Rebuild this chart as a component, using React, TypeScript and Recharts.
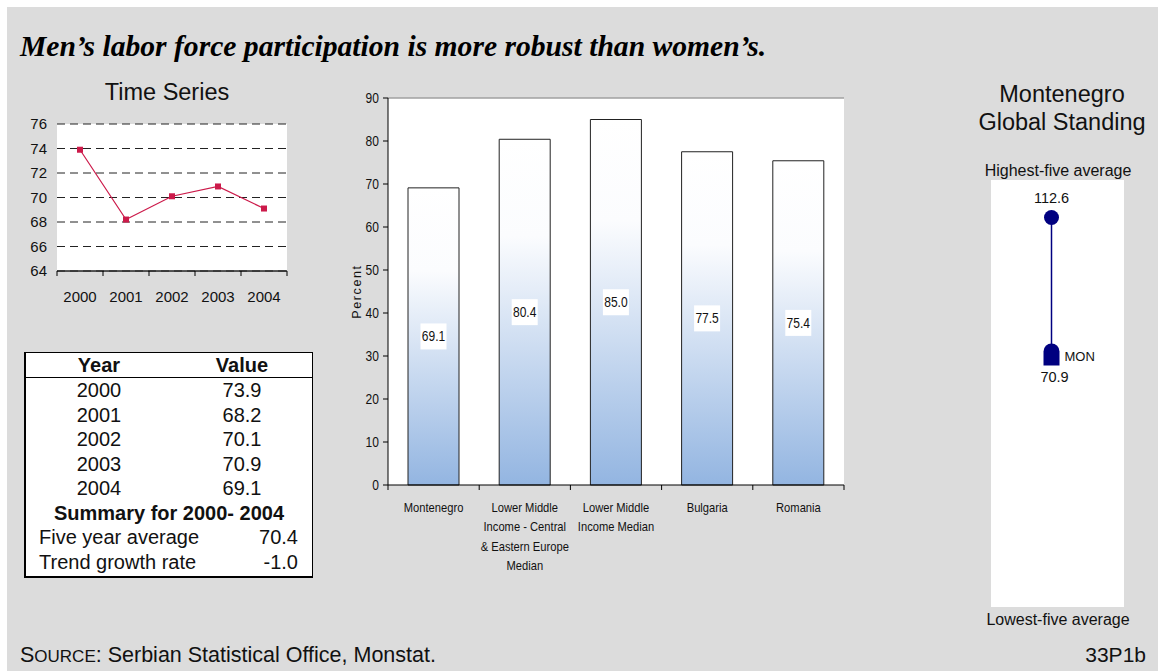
import React from 'react';
import {
  Bar,
  BarChart,
  CartesianGrid,
  LabelList,
  Line,
  LineChart,
  ReferenceLine,
  Scatter,
  ScatterChart,
  XAxis,
  YAxis,
} from 'recharts';

// Time series (men's labor force participation)
const years = ['2000', '2001', '2002', '2003', '2004'];
const yearValues = [73.9, 68.2, 70.1, 70.9, 69.1];
const timeTicks = [64, 66, 68, 70, 72, 74, 76];
const fiveYearAverage = 70.4;
const trendGrowthRate = -1.0;

// Comparison bars
const groupNames = [
  'Montenegro',
  'Lower Middle Income - Central & Eastern Europe Median',
  'Lower Middle Income Median',
  'Bulgaria',
  'Romania',
];
const groupLines = [
  ['Montenegro'],
  ['Lower Middle', 'Income - Central', '& Eastern Europe', 'Median'],
  ['Lower Middle', 'Income Median'],
  ['Bulgaria'],
  ['Romania'],
];
const groupValues = [69.1, 80.4, 85.0, 77.5, 75.4];
const percentTicks = [0, 10, 20, 30, 40, 50, 60, 70, 80, 90];

// Global standing strip
const standingNames = ['Highest-five', 'MON'];
const standingValues = [112.6, 70.9];
const standingDomain = [-6, 124];

const timeData = years.map((year, i) => ({ year, value: yearValues[i] }));
const barData = groupNames.map((name, i) => ({ name, value: groupValues[i] }));
const standingData = standingNames.map((name, i) => ({ name, x: 0.5, y: standingValues[i] }));

const SANS = "'Liberation Sans', Arial, Helvetica, sans-serif";
const GREY = '#dcdcdc';
const RED = '#cc1a4a';
const NAVY = '#000080';

const TS_HALF_BAND = 23;
const BAR_HALF_BAND = 45.6;
// the comparison chart's lettering is horizontally condensed
const squeeze = (x: number) => `translate(${x},0) scale(0.86,1) translate(${-x},0)`;

function YearTick({ x, y, payload, index }: any) {
  return (
    <g>
      <line x1={x - TS_HALF_BAND} y1={y} x2={x - TS_HALF_BAND} y2={y + 5} stroke="#000" />
      {index === years.length - 1 && (
        <line x1={x + TS_HALF_BAND} y1={y} x2={x + TS_HALF_BAND} y2={y + 5} stroke="#000" />
      )}
      <text x={x} y={y + 31} textAnchor="middle" fontSize={15} fontFamily={SANS} fill="#111">
        {payload.value}
      </text>
    </g>
  );
}

function GroupTick({ x, y, index }: any) {
  const lines = groupLines[index] || [];
  return (
    <g>
      <line x1={x - BAR_HALF_BAND} y1={y} x2={x - BAR_HALF_BAND} y2={y + 5} stroke="#000" />
      {index === groupLines.length - 1 && (
        <line x1={x + BAR_HALF_BAND} y1={y} x2={x + BAR_HALF_BAND} y2={y + 5} stroke="#000" />
      )}
      <text textAnchor="middle" fontSize={13} fontFamily={SANS} fill="#111" transform={squeeze(x)}>
        {lines.map((l: string, i: number) => (
          <tspan key={i} x={x} y={y + 27 + i * 19.5}>
            {l}
          </tspan>
        ))}
      </text>
    </g>
  );
}

function PercentTick({ x, y, payload }: any) {
  return (
    <text x={x} y={y + 5} textAnchor="end" fontSize={14} fontFamily={SANS} fill="#111" transform={squeeze(x)}>
      {payload.value}
    </text>
  );
}

function ValueBox({ x, y, width, height, value }: any) {
  const cx = x + width / 2;
  const cy = y + height / 2;
  return (
    <g>
      <rect x={cx - 13} y={cy - 13} width={26} height={26} fill="#fff" />
      <text x={cx} y={cy + 5} textAnchor="middle" fontSize={14} fontFamily={SANS} fill="#111" transform={squeeze(cx)}>
        {Number(value).toFixed(1)}
      </text>
    </g>
  );
}

function StandingMark({ cx, cy, payload }: any) {
  if (payload.name === 'MON') {
    return (
      <g>
        <path
          d={`M${cx - 8},${cy + 11} L${cx - 8},${cy - 3} A8,8 0 0 1 ${cx + 8},${cy - 3} L${cx + 8},${cy + 11} Z`}
          fill={NAVY}
        />
        <text x={cx + 13} y={cy + 7} fontSize={13} fontFamily={SANS} fill="#111">
          MON
        </text>
        <text x={cx + 3} y={cy + 28} textAnchor="middle" fontSize={14.5} fontFamily={SANS} fill="#111">
          {payload.y.toFixed(1)}
        </text>
      </g>
    );
  }
  return (
    <g>
      <circle cx={cx} cy={cy} r={7.5} fill={NAVY} />
      <text x={cx} y={cy - 14} textAnchor="middle" fontSize={14.5} fontFamily={SANS} fill="#111">
        {payload.y.toFixed(1)}
      </text>
    </g>
  );
}

const abs = (left: number, top: number, extra: React.CSSProperties = {}): React.CSSProperties => ({
  position: 'absolute',
  left,
  top,
  ...extra,
});

const ROW = 24.5;
const row: React.CSSProperties = { display: 'flex', height: ROW, lineHeight: `${ROW}px` };
const yearCol: React.CSSProperties = { width: 146, textAlign: 'center' };
const valueCol: React.CSSProperties = { width: 140, textAlign: 'center' };

export default function App() {
  return (
    <div
      style={{
        position: 'absolute',
        left: 0,
        top: 0,
        width: 1158,
        height: 671,
        background: '#fff',
        overflow: 'hidden',
        fontFamily: SANS,
        color: '#111',
      }}
    >
      <div style={abs(7, 7, { width: 1151, height: 664, background: GREY })} />

      <div
        style={abs(20, 28, {
          fontFamily: "'Liberation Serif', 'Times New Roman', serif",
          fontStyle: 'italic',
          fontWeight: 'bold',
          fontSize: 29.6,
          lineHeight: '36px',
          whiteSpace: 'nowrap',
          color: '#000',
        })}
      >
        Men’s labor force participation is more robust than women’s.
      </div>

      {/* time series */}
      <div style={abs(52, 79, { width: 230, textAlign: 'center', fontSize: 23.5 })}>Time Series</div>
      <div style={abs(0, 110)}>
        <LineChart width={300} height={206} data={timeData} margin={{ top: 14, right: 13, bottom: 0, left: 0 }}>
          <CartesianGrid vertical={false} fill="#fff" stroke="#222" strokeDasharray="8 5" />
          <XAxis
            dataKey="year"
            height={45}
            padding={{ left: TS_HALF_BAND, right: TS_HALF_BAND }}
            axisLine={{ stroke: '#222', strokeWidth: 1.5 }}
            tickLine={false}
            tickSize={0}
            tickMargin={0}
            tick={<YearTick />}
            interval={0}
          />
          <YAxis
            width={57}
            domain={[64, 76]}
            ticks={timeTicks}
            axisLine={false}
            tickLine={false}
            tickSize={0}
            tickMargin={10}
            tick={{ fontSize: 15, fontFamily: SANS, fill: '#111' }}
            interval={0}
          />
          <Line
            dataKey="value"
            stroke={RED}
            strokeWidth={1.2}
            isAnimationActive={false}
            dot={(p: any) => <rect key={p.index} x={p.cx - 3} y={p.cy - 3} width={6} height={6} fill={RED} />}
          />
        </LineChart>
      </div>

      {/* summary table */}
      <div
        style={abs(24, 352, {
          width: 286,
          height: 223,
          background: '#fff',
          borderTop: '1px solid #000',
          borderRight: '1px solid #000',
          borderBottom: '2px solid #000',
          borderLeft: '2px solid #000',
          fontSize: 20,
        })}
      >
        <div style={{ ...row, height: 24, lineHeight: '24px', fontWeight: 'bold', borderBottom: '1.5px solid #000' }}>
          <div style={yearCol}>Year</div>
          <div style={valueCol}>Value</div>
        </div>
        {years.map((y, i) => (
          <div key={y} style={row}>
            <div style={yearCol}>{y}</div>
            <div style={valueCol}>{yearValues[i].toFixed(1)}</div>
          </div>
        ))}
        <div style={{ ...row, justifyContent: 'center', fontWeight: 'bold' }}>
          Summary for {years[0]}- {years[years.length - 1]}
        </div>
        <div style={{ ...row, justifyContent: 'space-between', padding: '0 14px 0 13px' }}>
          <span>Five year average</span>
          <span>{fiveYearAverage.toFixed(1)}</span>
        </div>
        <div style={{ ...row, justifyContent: 'space-between', padding: '0 14px 0 13px' }}>
          <span>Trend growth rate</span>
          <span>{trendGrowthRate.toFixed(1)}</span>
        </div>
      </div>

      {/* comparison bars */}
      <div style={abs(340, 88)}>
        <BarChart width={520} height={497} data={barData} margin={{ top: 10, right: 16, bottom: 0, left: 0 }} barCategoryGap={20}>
          <defs>
            <linearGradient id="barFill" x1="0" y1="0" x2="0" y2="1">
              <stop offset="0" stopColor="#ffffff" />
              <stop offset="0.28" stopColor="#fbfcfe" />
              <stop offset="1" stopColor="#93b5e1" />
            </linearGradient>
          </defs>
          <CartesianGrid horizontal={false} vertical={false} fill="#fff" />
          <ReferenceLine y={90} stroke="#a0a0a0" strokeWidth={1.5} />
          <XAxis
            dataKey="name"
            height={100}
            axisLine={{ stroke: '#000' }}
            tickLine={false}
            tickSize={0}
            tickMargin={0}
            tick={<GroupTick />}
            interval={0}
          />
          <YAxis
            width={48}
            domain={[0, 90]}
            ticks={percentTicks}
            axisLine={{ stroke: '#000' }}
            tickLine={{ stroke: '#000' }}
            tickSize={5}
            tickMargin={4}
            tick={<PercentTick />}
            interval={0}
            label={{
              content: ({ viewBox }: any) => (
                <text
                  transform={`translate(${viewBox.x + 21},${viewBox.y + viewBox.height / 2}) rotate(-90)`}
                  textAnchor="middle"
                  fontSize={12.5}
                  letterSpacing={1.6}
                  fontFamily={SANS}
                  fill="#111"
                >
                  Percent
                </text>
              ),
            }}
          />
          <YAxis yAxisId="frame" orientation="right" width={0} tick={false} tickLine={false} axisLine={{ stroke: '#a0a0a0', strokeWidth: 1.5 }} />
          <Bar dataKey="value" fill="url(#barFill)" stroke="#222" strokeWidth={1} isAnimationActive={false}>
            <LabelList dataKey="value" content={<ValueBox />} />
          </Bar>
        </BarChart>
      </div>

      {/* global standing */}
      <div style={abs(962, 80, { width: 200, textAlign: 'center', fontSize: 23.5, lineHeight: '28px' })}>
        Montenegro
        <br />
        Global Standing
      </div>
      <div style={abs(978, 162, { width: 160, textAlign: 'center', fontSize: 16 })}>Highest-five average</div>
      <div style={abs(991, 180, { width: 133, height: 427, background: '#fff' })}>
        <ScatterChart width={133} height={427} margin={{ top: 0, right: 12, bottom: 0, left: 0 }}>
          <XAxis type="number" dataKey="x" domain={[0, 1]} hide />
          <YAxis type="number" dataKey="y" domain={standingDomain} hide />
          <Scatter
            data={standingData}
            line={{ stroke: NAVY, strokeWidth: 1.5 }}
            shape={<StandingMark />}
            isAnimationActive={false}
          />
        </ScatterChart>
      </div>
      <div style={abs(978, 611, { width: 160, textAlign: 'center', fontSize: 16 })}>Lowest-five average</div>

      {/* footer */}
      <div style={abs(20, 643, { fontSize: 21.5, whiteSpace: 'nowrap' })}>
        S<span style={{ fontSize: 17 }}>OURCE</span>: Serbian Statistical Office, Monstat.
      </div>
      <div style={abs(1070, 643, { width: 76, textAlign: 'right', fontSize: 21 })}>33P1b</div>
    </div>
  );
}
